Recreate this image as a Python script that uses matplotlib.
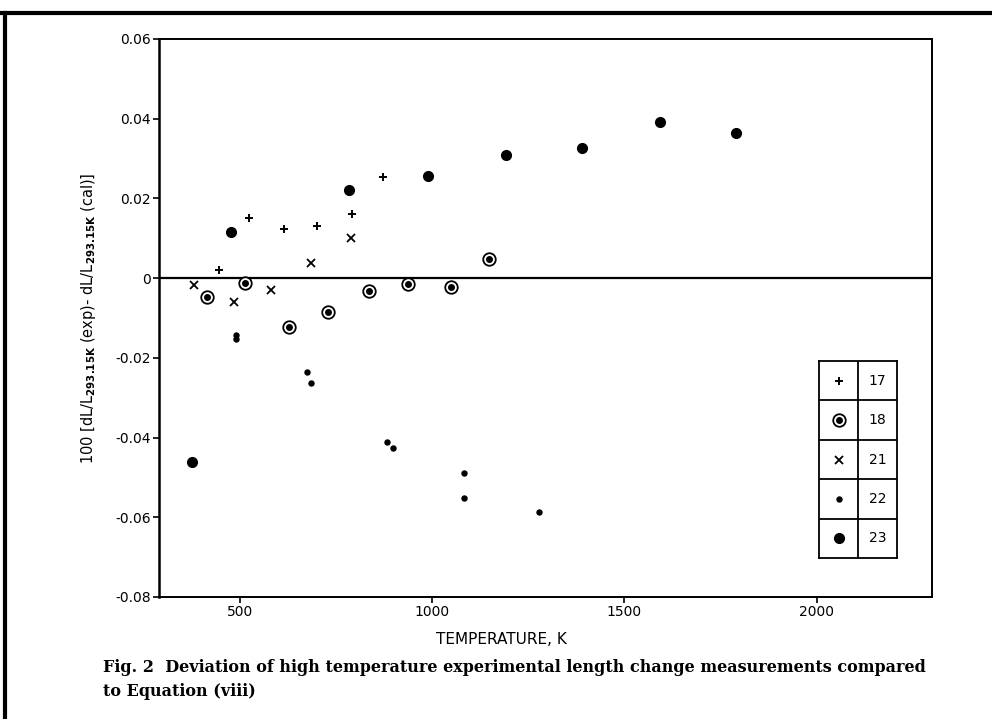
import matplotlib
matplotlib.use('Agg')
import matplotlib.pyplot as plt
from matplotlib.lines import Line2D

matplotlib.rcParams['font.family'] = 'DejaVu Sans'
matplotlib.rcParams['mathtext.default'] = 'regular'

# data (temperature K, deviation)
t17 = [445, 524, 615, 700, 791, 873]
d17 = [0.0021, 0.0150, 0.0123, 0.0131, 0.0161, 0.0255]

t18 = [414, 514, 627, 730, 835, 938, 1050, 1149]
d18 = [-0.0048, -0.0011, -0.0122, -0.0084, -0.0033, -0.0015, -0.0023, 0.0049]

t21 = [381, 484, 582, 685, 789]
d21 = [-0.0016, -0.0061, -0.0030, 0.0039, 0.0100]

t22 = [490, 490, 676, 686, 882, 898, 1083, 1083, 1277]
d22 = [-0.0143, -0.0152, -0.0236, -0.0264, -0.0412, -0.0426, -0.0488, -0.0551, -0.0586]

t23 = [377, 476, 785, 990, 1193, 1390, 1593, 1790]
d23 = [-0.0461, 0.0116, 0.0221, 0.0257, 0.0308, 0.0327, 0.0391, 0.0364]

legend_ids = ['17', '18', '21', '22', '23']

yticks = [0.06, 0.04, 0.02, 0, -0.02, -0.04, -0.06, -0.08]
ylabels = ['0.06', '0.04', '0.02', '0', '-0.02', '-0.04', '-0.06', '-0.08']
xticks = [500, 1000, 1500, 2000]

fig = plt.figure(figsize=(9.92, 7.19), dpi=100)
ax = fig.add_axes([159 / 992, 1 - 597 / 719, 773 / 992, 558 / 719])

# marker styles
def plus(a, x, y):
    a.plot(x, y, ls='none', marker='+', ms=6, mew=1.4, color='black')

def ring(a, x, y):
    a.plot(x, y, ls='none', marker='o', ms=9, mew=1.3, mfc='white', mec='black')
    a.plot(x, y, ls='none', marker='o', ms=4, color='black')

def cross(a, x, y):
    a.plot(x, y, ls='none', marker='x', ms=6, mew=1.3, color='black')

def dot(a, x, y):
    a.plot(x, y, ls='none', marker='o', ms=3.6, color='black')

def big(a, x, y):
    a.plot(x, y, ls='none', marker='o', ms=7, color='black')

ax.axhline(0, color='black', lw=1.6, zorder=1)
plus(ax, t17, d17)
ring(ax, t18, d18)
cross(ax, t21, d21)
dot(ax, t22, d22)
big(ax, t23, d23)

ax.set_xlim(290, 2300)
ax.set_ylim(-0.08, 0.06)
ax.set_yticks(yticks)
ax.set_yticklabels(ylabels)
ax.set_xticks(xticks)
ax.tick_params(direction='out', length=4, width=1.2, labelsize=10, pad=2)
for s in ['top', 'right', 'bottom']:
    ax.spines[s].set_linewidth(1.4)
ax.spines['left'].set_linewidth(1.8)

ax.set_ylabel(r'100 [dL/L$_{\mathbf{293.15K}}$ (exp)- dL/L$_{\mathbf{293.15K}}$ (cal)]', fontsize=10.5)
ax.yaxis.set_label_coords(-0.079, 0.5)
fig.text(501 / 992, 1 - 639 / 719, 'TEMPERATURE, K', ha='center', va='center', fontsize=11)

# legend table
lg = fig.add_axes([819 / 992, 1 - 558 / 719, 78 / 992, 197 / 719])
lg.set_xlim(0, 2)
lg.set_ylim(0, 5)
lg.set_xticks([])
lg.set_yticks([])
for s in lg.spines.values():
    s.set_linewidth(1.3)
lg.axvline(1, color='black', lw=1.3)
for k in range(1, 5):
    lg.axhline(k, color='black', lw=1.3)
funcs = [plus, ring, cross, dot, big]
for i, (f, lab) in enumerate(zip(funcs, legend_ids)):
    yc = 4.5 - i
    f(lg, [0.5], [yc])
    lg.text(1.5, yc, lab, ha='center', va='center', fontsize=10)

# page frame
fig.add_artist(Line2D([0, 1], [1 - 13 / 719, 1 - 13 / 719], transform=fig.transFigure, color='black', lw=3))
fig.add_artist(Line2D([5 / 992, 5 / 992], [0, 1 - 13 / 719], transform=fig.transFigure, color='black', lw=3))

# caption
fig.text(103 / 992, 1 - 668 / 719,
         'Fig. 2  Deviation of high temperature experimental length change measurements compared',
         family='DejaVu Serif', weight='bold', fontsize=11.5, va='center')
fig.text(103 / 992, 1 - 692 / 719, 'to Equation (viii)',
         family='DejaVu Serif', weight='bold', fontsize=11.5, va='center')

fig.savefig('out.png', dpi=100)
